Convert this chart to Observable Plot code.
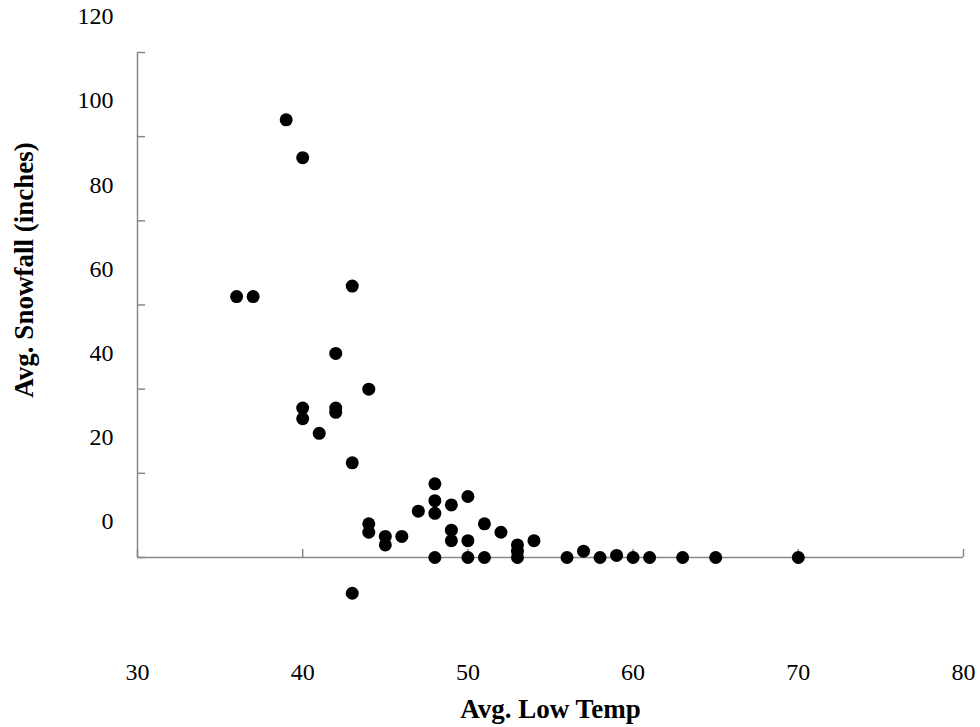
<!DOCTYPE html>
<html><head><meta charset="utf-8">
<script src="https://cdn.jsdelivr.net/npm/d3@7"></script>
<script src="https://cdn.jsdelivr.net/npm/@observablehq/plot@0.6"></script>
<style>body{margin:0;background:#fff}</style>
</head><body><div id="chart"></div>
<script>
// Avg. low temperature (°F) and avg. snowfall (inches), one entry per city
const temps = [39, 40, 43, 36, 37, 42, 44, 40, 40, 42, 42, 41, 43, 48, 48, 48, 49, 50, 47, 44, 44, 45, 45, 46, 49, 49, 50, 51, 52, 54, 53, 53, 53, 48, 50, 51, 43, 56, 57, 58, 59, 60, 61, 63, 65, 70];
const snowfall = [104, 95, 64.5, 62, 62, 48.5, 40, 35.5, 33, 35.5, 34.5, 29.5, 22.5, 17.5, 13.5, 10.5, 12.5, 14.5, 11, 8, 6, 5, 3, 5, 6.5, 4, 4, 8, 6, 4, 3, 1.5, 0, 0, 0, 0, -8.5, 0, 1.5, 0, 0.5, 0, 0, 0, 0, 0];
const xTicks = [30, 40, 50, 60, 70, 80];
const yTicks = [0, 20, 40, 60, 80, 100, 120];
const xTitle = "Avg. Low Temp";
const yTitle = "Avg. Snowfall (inches)";

const data = temps.map((t, i) => ({temp: t, snow: snowfall[i]}));
const axisColor = "#898989";
const x0 = xTicks[0], x1 = xTicks[xTicks.length - 1];
const y0 = yTicks[0], y1 = yTicks[yTicks.length - 1];

const chart = Plot.plot({
  width: 980,
  height: 727,
  marginLeft: 137,
  marginRight: 17,
  marginTop: 52,
  marginBottom: 170,
  style: {fontFamily: "'Liberation Serif', 'Times New Roman', serif", fontSize: "24px", color: "#000", background: "#fff"},
  x: {domain: [x0, x1]},
  y: {domain: [y0, y1]},
  marks: [
    Plot.ruleX([x0], {y1: y0, y2: y1, stroke: axisColor, strokeWidth: 1.5}),
    Plot.ruleY([y0], {x1: x0, x2: x1, stroke: axisColor, strokeWidth: 1.5}),
    Plot.axisY(yTicks, {tickSize: 8, dx: 8, tickFormat: () => "", stroke: axisColor, strokeWidth: 1.5, label: null}),
    Plot.axisX(xTicks, {tickSize: 8, dy: -8, tickFormat: () => "", stroke: axisColor, strokeWidth: 1.5, label: null}),
    Plot.axisY(yTicks, {tickSize: 0, tickPadding: 24, dy: -36, fill: "#000", fontSize: 24, label: null}),
    Plot.axisX(xTicks, {tickSize: 0, tickPadding: 105, fill: "#000", fontSize: 24, label: null}),
    Plot.text([xTitle], {frameAnchor: "bottom", textAnchor: "middle", lineAnchor: "bottom", dy: 160, fontWeight: "bold", fontSize: 27, fill: "#000"}),
    Plot.text([yTitle], {frameAnchor: "left", textAnchor: "middle", lineAnchor: "bottom", rotate: -90, dx: -105, dy: -35, fontWeight: "bold", fontSize: 27, fill: "#000"}),
    Plot.dot(data, {x: "temp", y: "snow", r: 6.5, fill: "#000", stroke: "none"})
  ]
});
document.getElementById("chart").appendChild(chart);
</script>
</body></html>
